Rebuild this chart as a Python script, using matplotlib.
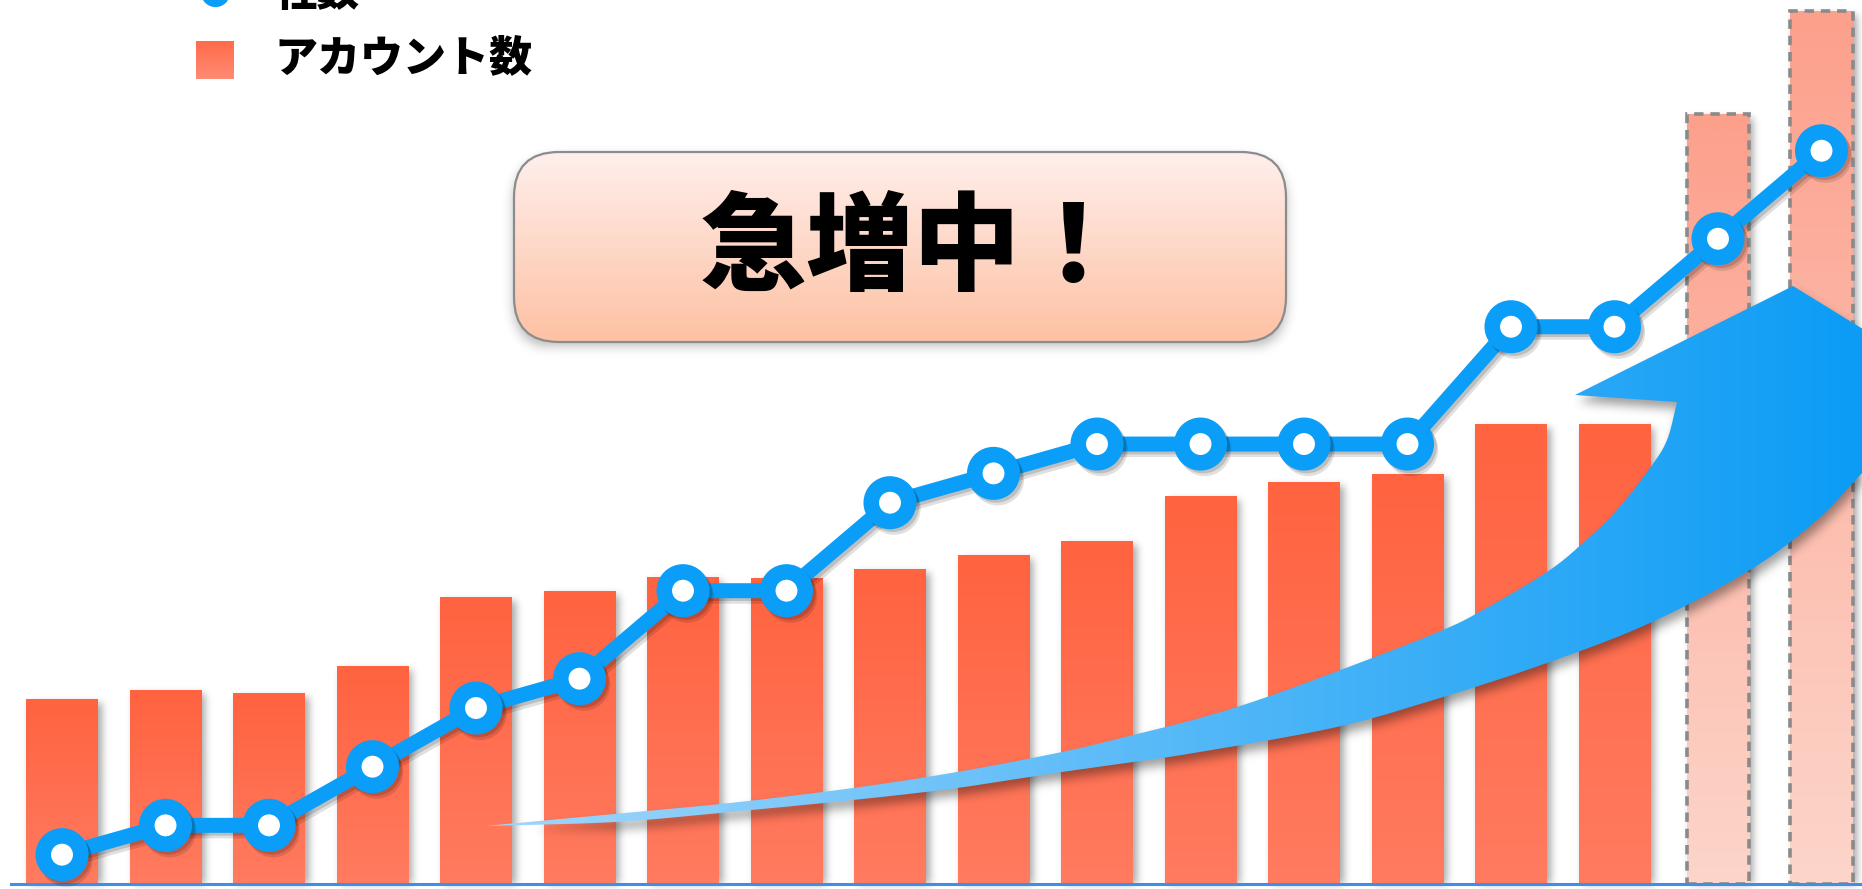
import numpy as np
import matplotlib
matplotlib.use("Agg")
import matplotlib.pyplot as plt
import matplotlib.patheffects as pe
from matplotlib.patches import Rectangle, FancyBboxPatch, PathPatch
from matplotlib.path import Path
from matplotlib.colors import LinearSegmentedColormap

plt.rcParams['font.family'] = ['Noto Sans CJK JP', 'DejaVu Sans']

W, H = 1862, 889

# 期ごとの推移（最後の2本は見込み）
periods = np.arange(18)
accounts = [185, 194, 191, 218, 287, 293, 307, 306, 315, 329, 343, 388, 402, 410, 460, 460, 770, 873]
companies = [1, 2, 2, 4, 6, 7, 10, 10, 13, 14, 15, 15, 15, 15, 19, 19, 22, 25]
n_forecast = 2

label_companies = '社数'
label_accounts = 'アカウント数'
headline = '急増中！'

BLUE = '#0a9ef8'


def gradient_fill(axis, patch, extent, c_start, c_end, vertical=True, zorder=2):
    cmap = LinearSegmentedColormap.from_list('g', [c_start, c_end])
    g = np.linspace(0, 1, 256)
    arr = g.reshape(-1, 1) if vertical else g.reshape(1, -1)
    im = axis.imshow(arr, cmap=cmap, extent=extent, origin='lower', aspect='auto',
                     interpolation='bicubic', zorder=zorder)
    im.set_clip_path(patch)
    return im


def blur(a, s):
    r = int(3 * s)
    k = np.exp(-0.5 * (np.arange(-r, r + 1) / s) ** 2)
    k /= k.sum()
    a = np.apply_along_axis(np.convolve, 1, a, k, mode='same')
    a = np.apply_along_axis(np.convolve, 0, a, k, mode='same')
    return a


def shadow_rgba(mask, alpha):
    img = np.zeros(mask.shape + (4,))
    img[..., 3] = np.clip(mask, 0, 1) * alpha
    return img


def smooth(pts, n=24):
    # Catmull-Rom で輪郭をなめらかにする
    p = np.asarray(pts, float)
    p = np.vstack([2 * p[0] - p[1], p, 2 * p[-1] - p[-2]])
    out = []
    t = np.linspace(0, 1, n, endpoint=False)[:, None]
    for i in range(1, len(p) - 2):
        p0, p1, p2, p3 = p[i - 1], p[i], p[i + 1], p[i + 2]
        out.append(0.5 * (2 * p1 + (-p0 + p2) * t + (2 * p0 - 5 * p1 + 4 * p2 - p3) * t ** 2
                          + (-p0 + 3 * p1 - 3 * p2 + p3) * t ** 3))
    out.append(p[-2][None])
    return np.vstack(out)


def path_mask(path, dx, dy):
    # 影用のマスク（dx, dy だけずらす。端で折り返さない）
    ext = path.get_extents()
    x0, x1 = max(int(ext.x0) - 2, 0), min(int(ext.x1) + 3, W)
    y0, y1 = max(int(ext.y0) - 2, 0), min(int(ext.y1) + 3, H)
    yy, xx = np.mgrid[y0:y1, x0:x1] + 0.5
    inside = path.contains_points(np.column_stack([xx.ravel() - dx, yy.ravel() - dy]))
    m = np.zeros((H, W))
    m[y0:y1, x0:x1] = inside.reshape(yy.shape)
    return m


fig = plt.figure(figsize=(W / 100, H / 100), dpi=100)
fig.patch.set_facecolor('white')

# 棒グラフ（アカウント数）
ax = fig.add_axes([0, 0, 1, 1])
ax.set_xlim(-62 / 103.5, (W - 62) / 103.5)
ax.set_ylim(-5, 884)
ax.axis('off')

n_actual = len(accounts) - n_forecast
bars = ax.bar(periods[:n_actual], accounts[:n_actual], width=0.686, color='none', zorder=2)
fbars = ax.bar(periods[n_actual:], accounts[n_actual:], width=0.6, color='none', zorder=2)

for rect in bars:
    x0, w, h = rect.get_x(), rect.get_width(), rect.get_height()
    gradient_fill(ax, rect, [x0, x0 + w, 0, h], '#ff7b60', '#ff6340', zorder=2)
for rect in fbars:
    x0, w, h = rect.get_x(), rect.get_width(), rect.get_height()
    gradient_fill(ax, rect, [x0, x0 + w, 0, h], '#fdd5ca', '#fca08c', zorder=2)
    ax.add_patch(Rectangle((x0, 0), w, h, fill=False, edgecolor='#8a8a8a', lw=2.6,
                           linestyle=(0, (2.6, 1.9)), zorder=3))

# 棒の影
mask = np.zeros((H, W))
for rect in list(bars) + list(fbars):
    (px0, py0), (px1, py1) = ax.transData.transform(
        [[rect.get_x(), 0], [rect.get_x() + rect.get_width(), rect.get_height()]])
    r0, r1 = int(round(H - py1)) + 4, int(round(H - py0))
    c0, c1 = int(round(px0)) + 4, int(round(px1)) + 4
    mask[max(r0, 0):r1, c0:c1] = 1
mask = blur(mask, 4)
ax.imshow(shadow_rgba(mask, 0.35), extent=[*ax.get_xlim(), *ax.get_ylim()], origin='upper',
          aspect='auto', interpolation='bilinear', zorder=1)

ax.axhline(0, xmin=11 / W, color='#3d8fe8', lw=2.2, zorder=4)

# 折れ線（社数）
ax2 = ax.twinx()
ax2.set_ylim(-5 / 29.33, 884 / 29.33)
ax2.axis('off')
ax2.plot(periods, companies, color=BLUE, lw=10.8, marker='o', ms=27, mew=11.2,
         mfc='white', mec=BLUE, solid_joinstyle='round', zorder=5,
         path_effects=[pe.SimpleLineShadow(offset=(3, -4), shadow_color='k', alpha=0.12),
                       pe.SimpleLineShadow(offset=(2, -2), shadow_color='k', alpha=0.15),
                       pe.Normal()])

# 装飾レイヤー（ピクセル座標, 左上原点）
deco = fig.add_axes([0, 0, 1, 1])
deco.set_xlim(0, W)
deco.set_ylim(H, 0)
deco.axis('off')
deco.set_zorder(3)

# 右上がりの矢印
upper = smooth([(485, 826), (615, 814), (730, 803), (853, 788), (957, 772), (1062, 752),
                (1133, 735), (1200, 718), (1267, 697), (1367, 660), (1443, 630), (1483, 610),
                (1547, 572), (1583, 543), (1617, 510), (1650, 468), (1667, 440), (1677, 402)])
lower = smooth([(1905, 430), (1862, 473), (1817, 520), (1750, 570), (1650, 623), (1547, 663),
                (1440, 698), (1337, 727), (1200, 752), (1133, 762), (1062, 772), (957, 788),
                (853, 800), (730, 812), (615, 822), (485, 826)])
head = np.array([(1575, 395), (1793, 286), (1905, 355)])
outline = np.vstack([upper, head, lower])
arrow_path = Path(outline, closed=False)

amask = blur(path_mask(arrow_path, 3, 7), 5)
deco.imshow(shadow_rgba(amask, 0.38), extent=[0, W, H, 0], origin='upper', aspect='auto',
            interpolation='bilinear', zorder=1)
arrow = PathPatch(arrow_path, facecolor='none', edgecolor='none', zorder=2)
deco.add_patch(arrow)
gradient_fill(deco, arrow, [485, W, 860, 280], '#a0d6fb', '#0c9cf5', vertical=False, zorder=2)

# 見出しボックス
box = FancyBboxPatch((514, 152), 772, 190, boxstyle='round,pad=0,rounding_size=45',
                     facecolor='none', edgecolor='#8c8c8c', lw=1.6, zorder=6)
deco.add_patch(box)
bmask = blur(path_mask(box.get_path(), 0, 6), 6)
deco.imshow(shadow_rgba(bmask, 0.3), extent=[0, W, H, 0], origin='upper', aspect='auto',
            interpolation='bilinear', zorder=4)
gradient_fill(deco, box, [514, 1286, 342, 152], '#fdc1a3', '#ffefec', zorder=5)
deco.text(914, 250, headline, ha='center', va='center', fontsize=77, fontweight='black',
          color='black', zorder=7)

# 凡例
deco.plot([215], [-8], 'o', ms=14.5, mew=6.5, mfc='white', mec=BLUE, clip_on=False, zorder=7)
deco.text(274, -7, label_companies, va='center', fontsize=31, fontweight='black', zorder=7)
key = Rectangle((196, 41), 38, 38, facecolor='none', edgecolor='none', zorder=7)
deco.add_patch(key)
gradient_fill(deco, key, [196, 234, 79, 41], '#ff8b74', '#ff6b49', zorder=7)
deco.text(274, 58, label_accounts, va='center', fontsize=31, fontweight='black', zorder=7)

fig.savefig('out.png', dpi=100)
